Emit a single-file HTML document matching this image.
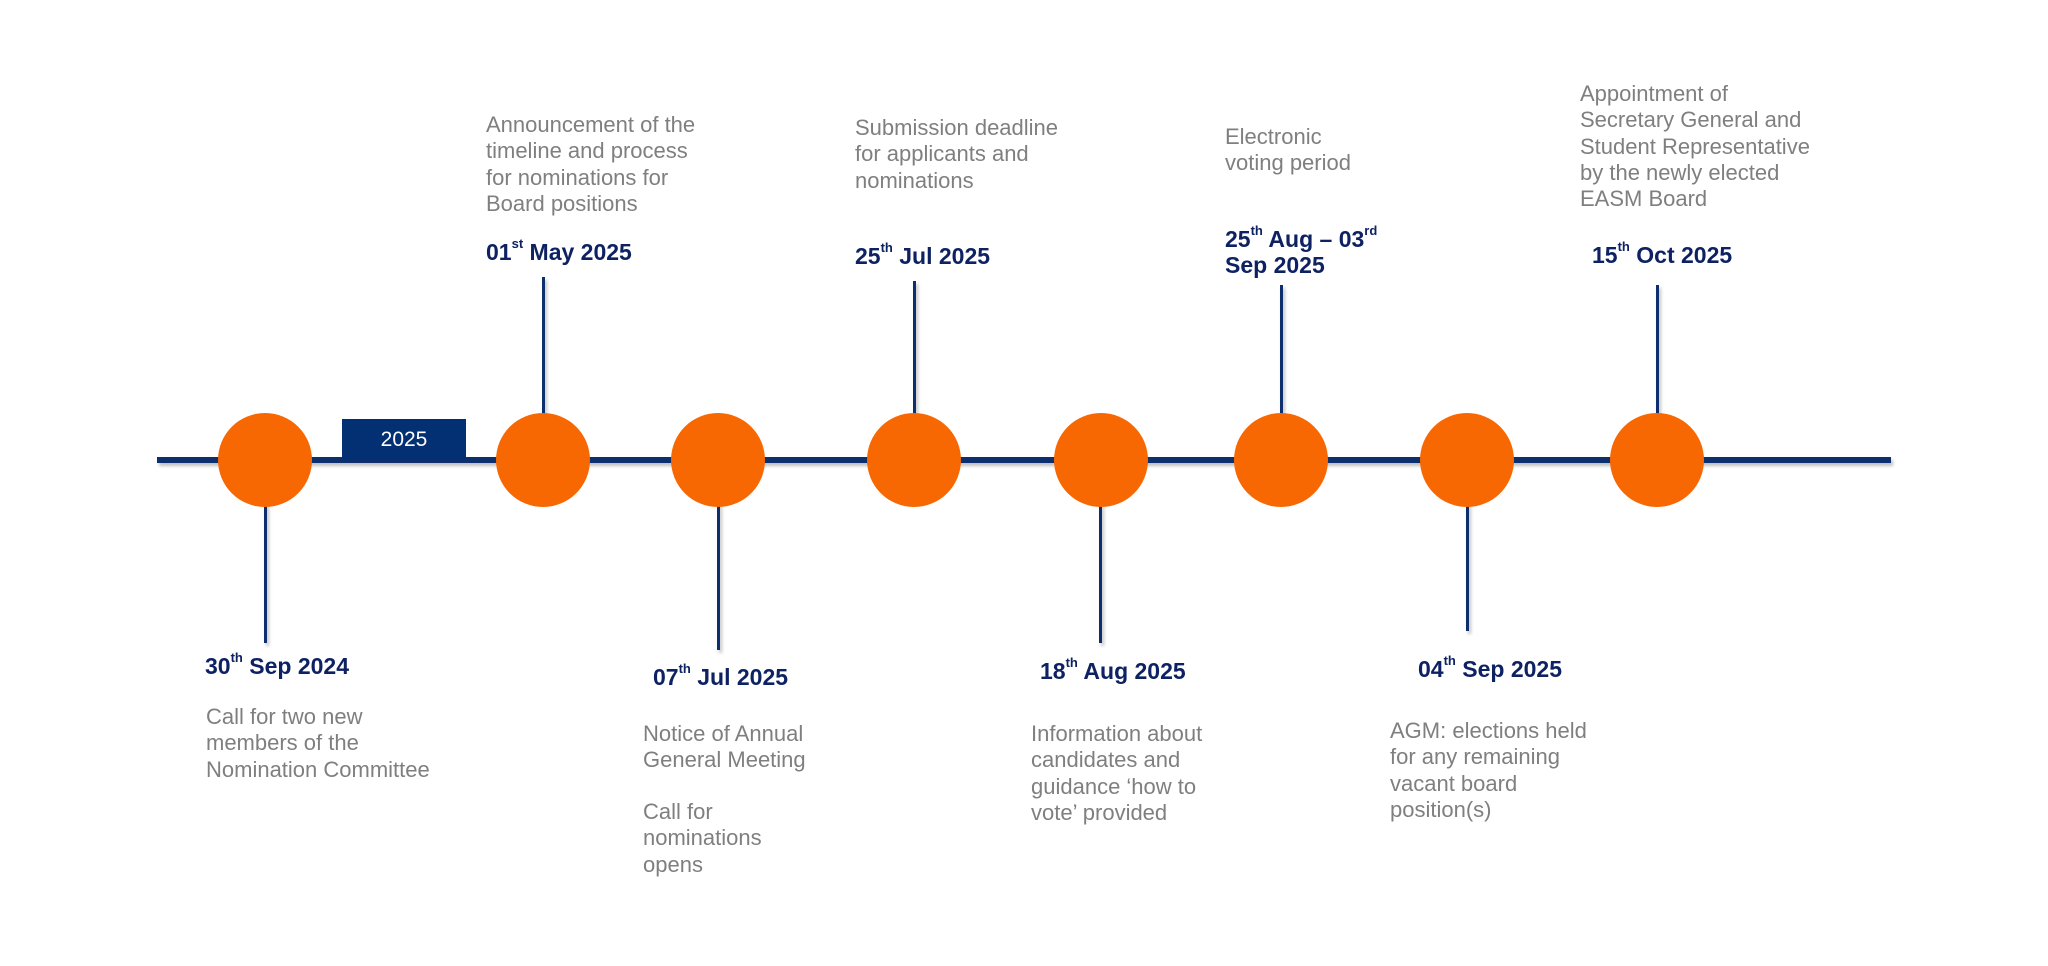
<!DOCTYPE html>
<html><head><meta charset="utf-8"><style>
html,body{margin:0;padding:0;background:#fff;}
#c{position:relative;width:2048px;height:966px;overflow:hidden;font-family:"Liberation Sans",Arial,sans-serif;}
.ln{position:absolute;background:#0d2f6e;box-shadow:2px 3px 3px rgba(0,0,0,0.25);}
.dot{position:absolute;width:94px;height:94px;border-radius:50%;background:#f76802;}
.d{position:absolute;font-weight:bold;color:#0d2163;font-size:23px;line-height:26px;white-space:nowrap;}
.d sup{font-size:13px;vertical-align:top;line-height:14px;position:relative;top:-2px;}
.t{position:absolute;color:#7f7f7f;font-size:22px;line-height:26.3px;white-space:nowrap;}
</style></head><body>
<div id="c">
<div class="ln" style="left:157px;top:457px;width:1734px;height:6px;"></div>
<div style="position:absolute;left:342px;top:419px;width:124px;height:41px;background:#023073;color:#fff;font-size:21px;line-height:41px;text-align:center;">2025</div>

<div class="ln" style="left:264px;top:500px;width:3px;height:143px;"></div>
<div class="ln" style="left:542px;top:277px;width:3px;height:140px;"></div>
<div class="ln" style="left:717px;top:500px;width:3px;height:150px;"></div>
<div class="ln" style="left:913px;top:281px;width:3px;height:136px;"></div>
<div class="ln" style="left:1099px;top:500px;width:3px;height:143px;"></div>
<div class="ln" style="left:1280px;top:285px;width:3px;height:132px;"></div>
<div class="ln" style="left:1466px;top:500px;width:3px;height:131px;"></div>
<div class="ln" style="left:1656px;top:285px;width:3px;height:132px;"></div>

<div class="dot" style="left:218px;top:413px;"></div>
<div class="dot" style="left:496px;top:413px;"></div>
<div class="dot" style="left:671px;top:413px;"></div>
<div class="dot" style="left:867px;top:413px;"></div>
<div class="dot" style="left:1054px;top:413px;"></div>
<div class="dot" style="left:1234px;top:413px;"></div>
<div class="dot" style="left:1420px;top:413px;"></div>
<div class="dot" style="left:1610px;top:413px;"></div>

<div class="d" style="left:205px;top:653px;">30<sup>th</sup> Sep 2024</div>
<div class="t" style="left:206px;top:704px;">Call for two new<br>members of the<br>Nomination Committee</div>

<div class="d" style="left:486px;top:239px;">01<sup>st</sup> May 2025</div>
<div class="t" style="left:486px;top:112px;">Announcement of the<br>timeline and process<br>for nominations for<br>Board positions</div>

<div class="d" style="left:653px;top:664px;">07<sup>th</sup> Jul 2025</div>
<div class="t" style="left:643px;top:721px;">Notice of Annual<br>General Meeting</div>
<div class="t" style="left:643px;top:799px;">Call for<br>nominations<br>opens</div>

<div class="d" style="left:855px;top:243px;">25<sup>th</sup> Jul 2025</div>
<div class="t" style="left:855px;top:115px;">Submission deadline<br>for applicants and<br>nominations</div>

<div class="d" style="left:1040px;top:658px;">18<sup>th</sup> Aug 2025</div>
<div class="t" style="left:1031px;top:721px;">Information about<br>candidates and<br>guidance ‘how to<br>vote’ provided</div>

<div class="d" style="left:1225px;top:226px;">25<sup>th</sup> Aug – 03<sup>rd</sup><br>Sep 2025</div>
<div class="t" style="left:1225px;top:124px;">Electronic<br>voting period</div>

<div class="d" style="left:1418px;top:656px;">04<sup>th</sup> Sep 2025</div>
<div class="t" style="left:1390px;top:718px;">AGM: elections held<br>for any remaining<br>vacant board<br>position(s)</div>

<div class="d" style="left:1592px;top:242px;">15<sup>th</sup> Oct 2025</div>
<div class="t" style="left:1580px;top:81px;">Appointment of<br>Secretary General and<br>Student Representative<br>by the newly elected<br>EASM Board</div>
</div>
</body></html>
